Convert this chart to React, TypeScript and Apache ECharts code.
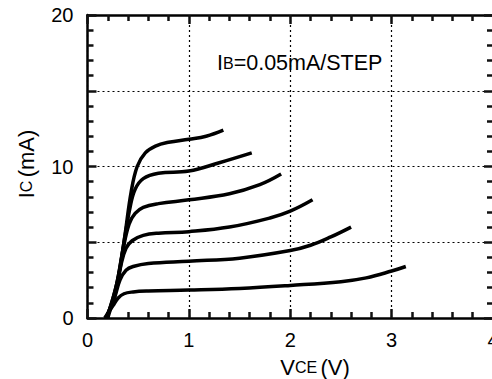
import React, { useEffect, useRef } from "react";
import * as echarts from "echarts";

// V_CE (V), I_C (mA) pairs for each base-current step (0.05 mA/step)
const curveStep1 = [[0.17, 0], [0.25, 0.8], [0.3, 1.3], [0.36, 1.6], [0.45, 1.72], [0.6, 1.78], [1.0, 1.84], [1.5, 1.95], [2.0, 2.15], [2.5, 2.4], [2.75, 2.65], [3.0, 3.1], [3.14, 3.4]];
const curveStep2 = [[0.18, 0], [0.26, 1.2], [0.32, 2.5], [0.38, 3.15], [0.45, 3.4], [0.6, 3.6], [1.0, 3.75], [1.5, 3.95], [2.0, 4.45], [2.2, 4.8], [2.4, 5.35], [2.6, 6.0]];
const curveStep3 = [[0.18, 0], [0.27, 1.5], [0.33, 3.5], [0.38, 4.6], [0.44, 5.1], [0.55, 5.45], [0.7, 5.6], [1.0, 5.7], [1.4, 6.0], [1.8, 6.6], [2.0, 7.05], [2.22, 7.8]];
const curveStep4 = [[0.19, 0], [0.28, 2.0], [0.35, 4.5], [0.41, 6.2], [0.47, 6.9], [0.55, 7.3], [0.7, 7.55], [1.0, 7.8], [1.4, 8.2], [1.7, 8.8], [1.91, 9.5]];
const curveStep5 = [[0.19, 0], [0.29, 2.3], [0.36, 5.0], [0.42, 7.3], [0.47, 8.5], [0.55, 9.2], [0.7, 9.55], [1.0, 9.7], [1.3, 10.25], [1.62, 10.9]];
const curveStep6 = [[0.2, 0], [0.3, 2.5], [0.37, 5.5], [0.43, 8.3], [0.49, 10.0], [0.57, 10.9], [0.67, 11.35], [0.8, 11.6], [1.0, 11.8], [1.17, 12.0], [1.34, 12.4]];

const curves = [curveStep1, curveStep2, curveStep3, curveStep4, curveStep5, curveStep6];

const xRange = [0, 4];
const yRange = [0, 20];
const yLabelValues = [0, 10, 20];
const xAxisTitle = "{v|V}{s|CE} {v|(V)}";
const yAxisTitle = "{v|I}{s|C} {v|(mA)}";
const annotationText = "{v|I}{s|B}{v|=0.05mA/STEP}";

const FONT = "'Liberation Sans', Arial, Helvetica, sans-serif";

export default function App() {
  const ref = useRef<HTMLDivElement>(null);
  useEffect(() => {
    const chart = echarts.init(ref.current!, null, { renderer: "svg" });
    const frameLine = () => ({ show: true, onZero: false, lineStyle: { color: "#000", width: 2.5 } });
    const majorTick = () => ({ show: true, inside: true, length: 9, lineStyle: { color: "#111", width: 2.5 } });
    const minorTick = () => ({ show: true, splitNumber: 5, length: 6, lineStyle: { color: "#111", width: 2.5 } });
    const grid = { show: true, lineStyle: { color: "#000", type: [2, 3], width: 1.2 } };
    const rich = {
      v: { fontSize: 22, fontFamily: FONT, color: "#000" },
      s: { fontSize: 16, fontFamily: FONT, color: "#000" },
    };
    const richNote = {
      v: { fontSize: 21.5, fontFamily: FONT, color: "#000" },
      s: { fontSize: 16, fontFamily: FONT, color: "#000" },
    };
    chart.setOption({
      animation: false,
      backgroundColor: "#fff",
      grid: { left: 87.5, width: 405.5, top: 15, bottom: 61, outerBoundsMode: "none" },
      xAxis: [
        {
          type: "value", min: xRange[0], max: xRange[1], interval: 1,
          axisLine: frameLine(),
          axisTick: majorTick(),
          minorTick: minorTick(),
          axisLabel: { show: true, color: "#000", fontSize: 20, fontFamily: FONT, margin: 12 },
          splitLine: grid,
        },
        {
          type: "value", min: xRange[0], max: xRange[1], interval: 1, position: "top",
          axisLine: frameLine(),
          axisTick: majorTick(),
          minorTick: minorTick(),
          axisLabel: { show: false },
          splitLine: { show: false },
        },
      ],
      yAxis: [
        {
          type: "value", min: yRange[0], max: yRange[1], interval: 5,
          axisLine: frameLine(),
          axisTick: majorTick(),
          minorTick: minorTick(),
          axisLabel: {
            show: true, color: "#000", fontSize: 20, fontFamily: FONT, margin: 14,
            formatter: (v: number) => (yLabelValues.includes(v) ? String(v) : ""),
          },
          splitLine: grid,
        },
        {
          type: "value", min: yRange[0], max: yRange[1], interval: 5, position: "right",
          axisLine: frameLine(),
          axisTick: majorTick(),
          minorTick: minorTick(),
          axisLabel: { show: false },
          splitLine: { show: false },
        },
      ],
      graphic: [
        {
          type: "text",
          left: 217,
          top: 52,
          style: { text: annotationText, rich: richNote },
        },
        {
          type: "text",
          x: 315,
          y: 367,
          style: { text: xAxisTitle, rich, align: "center", verticalAlign: "middle" },
        },
        {
          type: "text",
          x: 26,
          y: 164,
          rotation: Math.PI / 2,
          style: { text: yAxisTitle, rich, align: "center", verticalAlign: "middle" },
        },
      ],
      series: curves.map((c) => ({
        type: "line",
        data: c,
        showSymbol: false,
        smooth: 0.4,
        lineStyle: { color: "#000", width: 3.5 },
      })),
    });
    return () => chart.dispose();
  }, []);
  return (
    <div
      ref={ref}
      style={{ position: "fixed", left: 0, top: 0, width: 492, height: 379, background: "#fff" }}
    />
  );
}
